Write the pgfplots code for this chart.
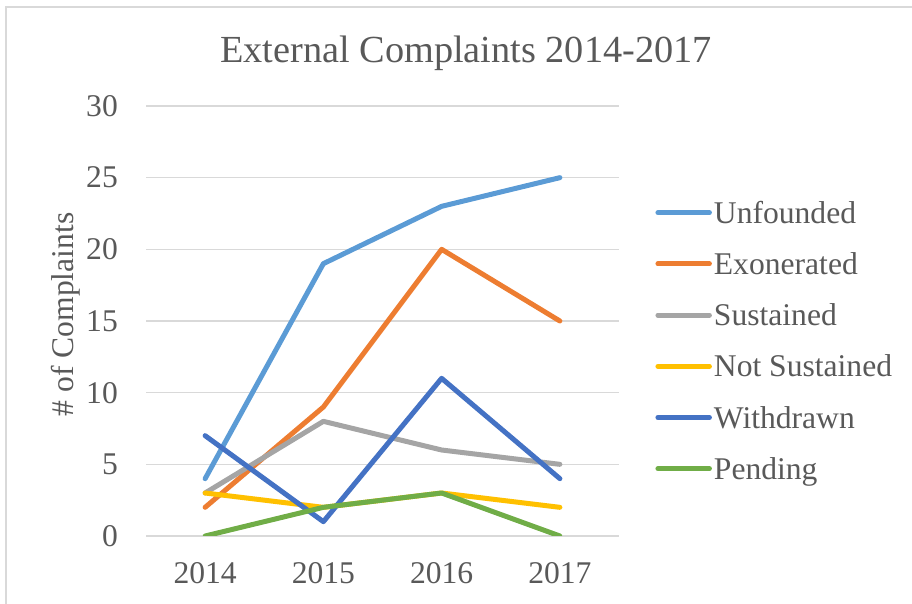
\documentclass[border=0pt]{standalone}
\usepackage{pgfplots}
\pgfplotsset{compat=1.18}
\usepackage{fontspec}
\setmainfont{Liberation Serif}
\definecolor{txt}{HTML}{595959}
\definecolor{gridc}{HTML}{D9D9D9}
\definecolor{cUnf}{HTML}{5B9BD5}
\definecolor{cExo}{HTML}{ED7D31}
\definecolor{cSus}{HTML}{A5A5A5}
\definecolor{cNot}{HTML}{FFC000}
\definecolor{cWit}{HTML}{4472C4}
\definecolor{cPen}{HTML}{70AD47}
\begin{document}
\begin{tikzpicture}
\path[use as bounding box] (0pt,0pt) rectangle (912pt,604pt);
\draw[gridc, line width=1.5pt] (6pt,0pt) -- (6pt,597pt) -- (912pt,597pt);
\node[anchor=base, font=\fontsize{38.3}{40}\selectfont, text=txt, inner sep=0pt] at (466pt,541pt) {External Complaints 2014-2017};
\begin{axis}[
  at={(146pt,68pt)}, anchor=south west,
  scale only axis, width=473pt, height=430pt,
  xmin=-0.5, xmax=3.5, ymin=0, ymax=30,
  xtick={0,1,2,3}, xticklabels={2014,2015,2016,2017}, ytick={0,5,...,30},
  axis line style={draw=none},
  major tick length=0pt,
  ymajorgrids, grid style={gridc, line width=1.5pt},
  /pgf/number format/assume math mode=true,
  tick label style={font=\fontsize{31.6}{34}\selectfont, text=txt, inner sep=0pt},
  yticklabel style={anchor=east, xshift=-28pt},
  xticklabel style={anchor=north, yshift=-26pt},
  ylabel={\# of Complaints},
  ylabel style={font=\fontsize{31.6}{34}\selectfont, text=txt, at={(axis description cs:-0.169,0.515)}, anchor=center, inner sep=0pt},
  every axis plot/.append style={line width=5pt, line join=round, line cap=round, mark=none},
  legend image code/.code={\draw[#1, line cap=round] (0pt,0pt) -- (51.5pt,0pt);},
  legend cell align=left,
  legend style={draw=none, fill=none, inner sep=0pt, column sep=2pt, row sep=30.2pt,
    at={(rel axis cs:1.0766,0.7767)}, anchor=north west,
    font=\fontsize{31.6}{34}\selectfont, text=txt,
    nodes={inner sep=0pt, text height=21pt, text depth=0pt}},
]
\addplot[cUnf] coordinates {(0,4) (1,19) (2,23) (3,25)};
\addlegendentry{Unfounded}
\addplot[cExo] coordinates {(0,2) (1,9) (2,20) (3,15)};
\addlegendentry{Exonerated}
\addplot[cSus] coordinates {(0,3) (1,8) (2,6) (3,5)};
\addlegendentry{Sustained}
\addplot[cNot] coordinates {(0,3) (1,2) (2,3) (3,2)};
\addlegendentry{Not Sustained}
\addplot[cWit] coordinates {(0,7) (1,1) (2,11) (3,4)};
\addlegendentry{Withdrawn}
\addplot[cPen] coordinates {(0,0) (1,2) (2,3) (3,0)};
\addlegendentry{Pending}
\end{axis}
\end{tikzpicture}
\end{document}
